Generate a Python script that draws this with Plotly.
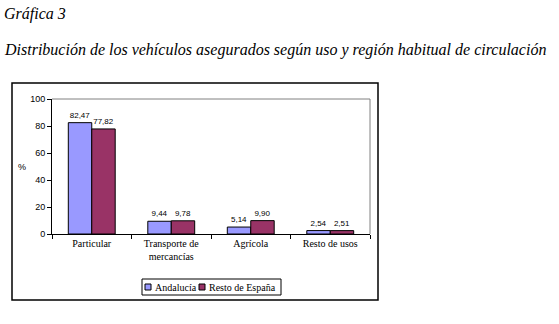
import plotly.graph_objects as go

# Vehicle use categories and shares (%) by region
categorias = ["Particular", "Transporte de<br>mercancías", "Agrícola", "Resto de usos"]
andalucia = [82.47, 9.44, 5.14, 2.54]
resto_espana = [77.82, 9.78, 9.90, 2.51]
series_nombres = ["Andalucía", "Resto de España"]
colores = ["#9999FF", "#993366"]
y_ticks = [0, 20, 40, 60, 80, 100]

W, H = 559, 324
L, R, T, B = 52, 370, 99, 234  # plot area in pixels
SERIF = "Liberation Serif"


def px(x):
    return (x - L) / (R - L)


def py(y):
    return (B - y) / (B - T)


def etiqueta(v):
    return f"{v:.2f}".replace(".", ",")


fig = go.Figure()
for nombre, valores, color in zip(series_nombres, [andalucia, resto_espana], colores):
    fig.add_trace(go.Bar(
        x=categorias, y=valores, name=nombre,
        marker=dict(color=color, line=dict(color="black", width=1)),
        text=[etiqueta(v) for v in valores],
        textposition="outside", constraintext="none", cliponaxis=False,
        textfont=dict(family="Liberation Sans", size=8, color="black"),
        showlegend=False,
    ))

shapes = [
    # outer chart frame
    dict(type="rect", xref="paper", yref="paper",
         x0=px(12), x1=px(378), y0=py(300), y1=py(83),
         line=dict(color="black", width=1.5), layer="below"),
    # gray plot-area border (top and right)
    dict(type="line", xref="paper", yref="paper", x0=0, x1=1, y0=1, y1=1,
         line=dict(color="#808080", width=1)),
    dict(type="line", xref="paper", yref="paper", x0=1, x1=1, y0=0, y1=1,
         line=dict(color="#808080", width=1)),
    # legend box
    dict(type="rect", xref="paper", yref="paper",
         x0=px(142), x1=px(281), y0=py(295), y1=py(279),
         line=dict(color="black", width=1)),
]

annotations = [
    dict(text="Gráfica 3", x=px(2), y=py(14), xref="paper", yref="paper",
         xanchor="left", yanchor="middle", showarrow=False,
         font=dict(family=SERIF, size=16, color="black", style="italic")),
    dict(text="Distribución de los vehículos asegurados según uso y región habitual de circulación",
         x=px(2), y=py(50), xref="paper", yref="paper",
         xanchor="left", yanchor="middle", showarrow=False,
         font=dict(family=SERIF, size=16, color="black", style="italic")),
    dict(text="%", x=px(22), y=py(167), xref="paper", yref="paper",
         xanchor="center", yanchor="middle", showarrow=False,
         font=dict(family="Liberation Sans", size=9, color="black")),
]

# legend drawn by hand: swatches and labels
leyenda_x = [(145, 153), (199, 207)]
for (sx, tx), nombre, color in zip(leyenda_x, series_nombres, colores):
    shapes.append(dict(type="rect", xref="paper", yref="paper",
                       x0=px(sx), x1=px(sx + 6), y0=py(290), y1=py(284),
                       fillcolor=color, line=dict(color="black", width=1)))
    annotations.append(dict(text=nombre, x=px(tx), y=py(287), xref="paper", yref="paper",
                            xanchor="left", yanchor="middle", showarrow=False,
                            font=dict(family=SERIF, size=10, color="black")))

fig.update_layout(
    width=W, height=H,
    margin=dict(l=L, r=W - R, t=T, b=H - B, pad=0),
    paper_bgcolor="white", plot_bgcolor="white",
    barmode="group", bargap=0.41, bargroupgap=0,
    shapes=shapes, annotations=annotations,
    xaxis=dict(
        showline=True, linecolor="black", linewidth=1,
        ticks="outside", tickson="boundaries", ticklen=4, tickcolor="black",
        tickfont=dict(family=SERIF, size=10, color="black"),
        showgrid=False,
    ),
    yaxis=dict(
        range=[0, 100], tickvals=y_ticks,
        showline=True, linecolor="black", linewidth=1,
        ticks="outside", ticklen=4, tickcolor="black",
        tickfont=dict(family="Liberation Sans", size=9, color="black"),
        showgrid=False, zeroline=False,
    ),
)

fig.write_html("out.html")
